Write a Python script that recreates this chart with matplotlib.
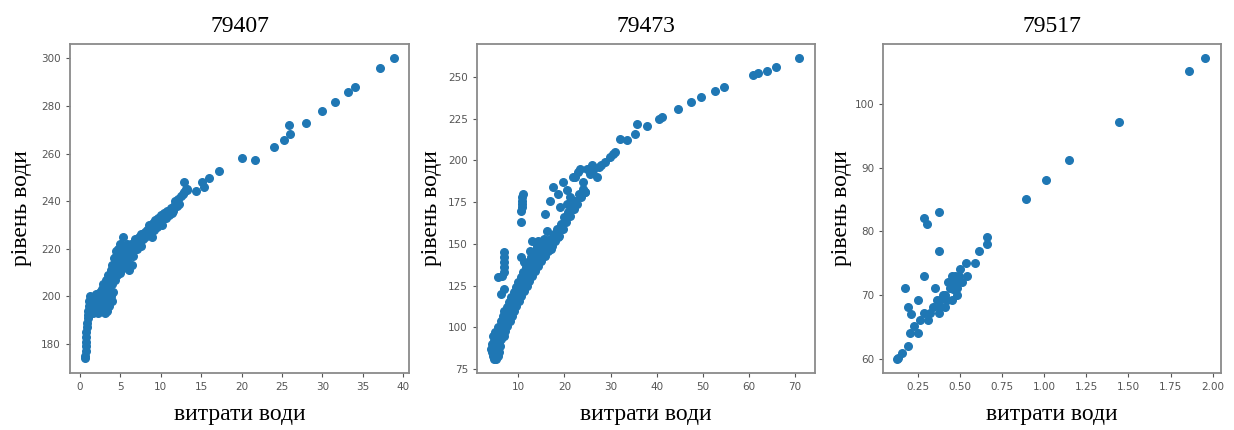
import matplotlib
matplotlib.use("Agg")
import matplotlib.pyplot as plt

# --- station 79407: (discharge, level) ---
st1_x = [0.6, 0.65, 0.7, 0.7, 0.75, 0.8, 0.8, 0.85, 0.9, 0.95, 1.0, 1.0,
         1.1, 1.1, 1.2, 1.3, 1.4, 1.5, 1.6, 1.7, 1.8, 1.9, 2.0, 2.0, 2.1, 2.2, 2.3, 2.4, 2.5, 2.5,
         2.6, 2.7, 2.8, 2.8, 2.9, 3.0, 3.0, 3.1, 3.2, 3.2, 3.3, 3.3, 3.4, 3.5, 3.5, 3.6, 3.6, 3.7,
         3.8, 3.8, 3.9, 3.9, 4.0, 4.0, 4.1, 4.2, 4.2,
         4.3, 4.4, 4.4, 4.5, 4.5, 4.6, 4.7, 4.7, 4.8, 4.9, 5.0, 5.0, 5.1, 5.2, 5.3, 5.3, 5.4, 5.5,
         5.6, 5.7, 5.8, 5.9, 6.0, 6.1, 6.2, 6.3, 6.4,
         6.5, 6.7, 6.8, 7.0, 7.1, 7.3, 7.4, 7.6, 7.8, 8.0, 8.1, 8.3, 8.5, 8.6, 8.8, 9.0, 9.1, 9.3,
         9.5, 9.7,
         9.9, 10.0, 10.2, 10.4, 10.6, 10.8, 11.0, 11.2, 11.4, 11.6, 11.8, 12.0, 12.1, 12.3, 12.5,
         12.7, 12.9, 13.1, 13.3,
         1.3, 1.6, 2.2, 2.7, 3.4, 3.7, 4.1, 4.6, 4.9, 5.4, 5.8, 6.6, 7.5, 8.9, 10.1, 11.5,
         12.9, 13.3, 14.4, 15.1, 15.3, 16.0, 17.2, 20.0, 21.6, 24.0, 25.2, 25.8, 26.0, 28.0, 30.0,
         31.6, 33.2, 34.0, 37.1, 38.85]
st1_y = [174, 175, 177, 179, 181, 183, 185, 187, 189, 191, 192, 194,
         196, 198, 193, 197, 195, 199, 196, 198, 200, 194, 197, 201, 199, 196, 200, 198, 202, 195,
         199, 203, 197, 201, 205, 199, 203, 193, 196, 207, 201, 205, 194, 198, 209, 203, 196, 207,
         200, 211, 198, 205, 209, 213, 202, 211, 216,
         207, 214, 219, 210, 217, 213, 220, 216, 211, 218, 214, 222, 216, 219, 225, 212, 217, 221,
         214, 219, 222, 216, 220, 211, 218, 222, 213,
         219, 221, 224, 220, 223, 225, 222, 226, 224, 227, 225, 228, 226, 230, 227, 231, 228, 232,
         229, 233,
         231, 234, 232, 235, 233, 236, 234, 237, 235, 238, 240, 238, 241, 239, 242,
         243, 244, 245, 245,
         200, 193, 193, 195, 202, 201, 207, 209, 210, 214, 213, 217, 221, 225, 230, 236,
         248.2, 244.7, 244.1, 248.2, 245.8, 249.9, 252.8, 258.0, 257.2, 262.8, 265.7, 271.9, 268.0,
         272.7, 277.9, 281.8, 285.7, 287.8, 296.0, 300.0]

# --- station 79473 ---
st2_x = [4.0, 4.2, 4.5, 4.7, 4.9, 5.0, 5.2, 5.3, 5.5, 5.6, 5.8, 4.3, 4.6, 4.8, 5.0, 5.4, 5.6,
         5.8, 6.0, 6.1, 6.2, 6.3, 6.5, 6.6, 6.8, 6.9, 7.0, 7.1, 7.3, 7.5, 7.6, 7.8, 8.0, 8.1, 8.3,
         8.5, 8.6, 8.8, 9.0, 9.1, 9.3, 9.5, 9.6, 9.8, 10.0, 10.1, 10.3, 10.5, 10.6, 10.8, 11.0,
         11.2, 11.4, 11.6, 11.8, 12.0, 12.2, 12.4, 12.6, 12.8, 13.0, 13.2, 13.4, 13.6, 13.8, 14.0,
         14.2, 14.5, 14.8, 15.0, 15.3, 15.6, 15.8, 16.1, 16.5, 16.9, 17.3, 17.7, 18.0, 18.4, 18.8,
         19.2, 19.6, 20.0, 20.4, 20.8, 21.2, 21.6, 22.0, 22.4, 22.8, 23.2, 23.6, 24.0, 24.4,
         6.8, 6.8, 6.9, 6.9, 6.8, 5.7, 6.4, 6.8, 6.2, 10.6,
         11.0, 10.9, 10.8, 10.7, 10.7, 10.6, 10.6,
         14.0, 14.3, 15.4, 17.2, 16.3, 18.3, 18.7, 15.8, 16.9, 17.6, 18.7, 19.0, 19.8, 20.5, 20.5,
         21.2, 22.3, 23.0, 24.0, 24.5, 21.9, 23.4, 24.8, 26.3, 27.0, 27.4, 28.8, 29.9, 31.0, 25.5,
         26.0, 28.0, 30.5, 13.0, 12.5, 11.3,
         32.1, 33.5, 35.3, 35.7, 37.8, 40.4, 41.2, 44.7, 47.5, 49.6, 52.7, 54.5, 60.8, 61.9, 63.9,
         65.9, 70.8]
st2_y = [87, 85, 83, 81, 82, 84, 81, 86, 83, 88, 85, 90, 95, 92, 97, 93, 100,
         91, 89, 96, 104, 93, 99, 107, 95, 102, 110, 98, 105, 112, 101, 108, 115, 104, 111,
         118, 107, 114, 121, 110, 117, 124, 113, 120, 127, 116, 123, 130, 119, 126, 133,
         122, 129, 136, 125, 132, 139, 128, 135, 142, 131, 138, 145, 134, 141, 148,
         137, 144, 151, 140, 147, 153, 143, 150, 146, 153, 149, 156, 152, 159, 155,
         162, 159, 166, 163, 169, 167, 173, 171, 176, 174, 180, 178, 183, 181,
         145, 142, 139, 136, 133, 130, 131, 123, 120, 142,
         180, 178, 176, 174, 172, 170, 163,
         149, 152, 150, 147, 158, 157, 154, 168, 176, 184, 180, 172, 187, 174, 182,
         178, 190, 193, 187, 181, 190, 195, 195, 194, 190, 196, 199, 202, 205, 192,
         197, 197, 204, 152, 146, 139,
         212.6, 212.2, 216.0, 222.0, 220.8, 225.0, 225.8, 230.8, 235.2, 238.2, 241.8, 243.8,
         251.2, 252.2, 253.6, 256.2, 261.2]

# --- station 79517 ---
st3_x = [1.955, 1.858, 1.446, 1.146, 1.013, 0.891, 0.377, 0.284, 0.303, 0.377, 0.659, 0.659,
         0.614, 0.535, 0.590, 0.284, 0.175, 0.190, 0.208, 0.254, 0.230, 0.205, 0.254, 0.193,
         0.155, 0.135, 0.125,
         0.353, 0.501, 0.452, 0.471, 0.442, 0.412, 0.382, 0.343, 0.323, 0.284, 0.264, 0.313,
         0.373, 0.412, 0.452, 0.481, 0.511, 0.540, 0.471, 0.481, 0.422, 0.398, 0.363, 0.382,
         0.430, 0.460, 0.495]
st3_y = [107.2, 105.1, 97.1, 91.2, 88.1, 85.1, 83.1, 82.1, 81.1, 77.0, 79.2, 78.0,
         77.0, 75.1, 75.1, 73.0, 71.1, 68.2, 67.1, 69.2, 65.2, 64.1, 64.1, 62.1,
         61.0, 60.1, 60.0,
         71.1, 74.1, 73.0, 72.0, 71.1, 70.0, 69.2, 68.2, 67.2, 67.2, 66.1, 66.1,
         67.2, 68.2, 69.2, 70.0, 72.1, 73.0, 73.0, 71.1, 69.2, 70.0, 69.2, 68.2,
         72.0, 71.0, 73.0]

titles = ["79407", "79473", "79517"]
xlabel = "витрати води"
ylabel = "рівень води"

fig = plt.figure(figsize=(12.34, 4.30), dpi=100)

boxes = [[0.0567, 0.1326, 0.2747, 0.765],
         [0.3865, 0.1326, 0.2739, 0.765],
         [0.7156, 0.1326, 0.2739, 0.765]]
data = [(st1_x, st1_y), (st2_x, st2_y), (st3_x, st3_y)]
xlims = [(-1.24, 40.7), (1.04, 74.3), (0.044, 2.049)]
ylims = [(167.8, 306), (72.6, 269.8), (57.8, 109.4)]
xticks = [list(range(0, 41, 5)), list(range(10, 71, 10)),
          [0.25, 0.5, 0.75, 1.0, 1.25, 1.5, 1.75, 2.0]]
yticks = [list(range(180, 301, 20)), list(range(75, 251, 25)), [60, 70, 80, 90, 100]]
ylab_x = [-0.112, -0.102, -0.092]

serif = "Liberation Serif"

for i in range(3):
    ax = fig.add_axes(boxes[i])
    xs, ys = data[i]
    ax.scatter(xs, ys, s=30, color="#1f77b4")
    ax.set_xlim(*xlims[i])
    ax.set_ylim(*ylims[i])
    ax.set_xticks(xticks[i])
    ax.set_yticks(yticks[i])
    if i == 2:
        ax.set_xticklabels([f"{t:.2f}" for t in xticks[i]])
    ax.tick_params(labelsize=7.5, colors="#555555", length=3, width=0.8)
    for sp in ax.spines.values():
        sp.set_color("#8a8a8a")
        sp.set_linewidth(1.3)
    ax.set_title(titles[i], fontfamily=serif, fontsize=17, pad=9)
    ax.set_xlabel(xlabel, fontfamily=serif, fontsize=17)
    ax.set_ylabel(ylabel, fontfamily=serif, fontsize=17)
    ax.xaxis.set_label_coords(0.5, -0.094)
    ax.yaxis.set_label_coords(ylab_x[i], 0.5)

fig.savefig("out.png", dpi=100)
